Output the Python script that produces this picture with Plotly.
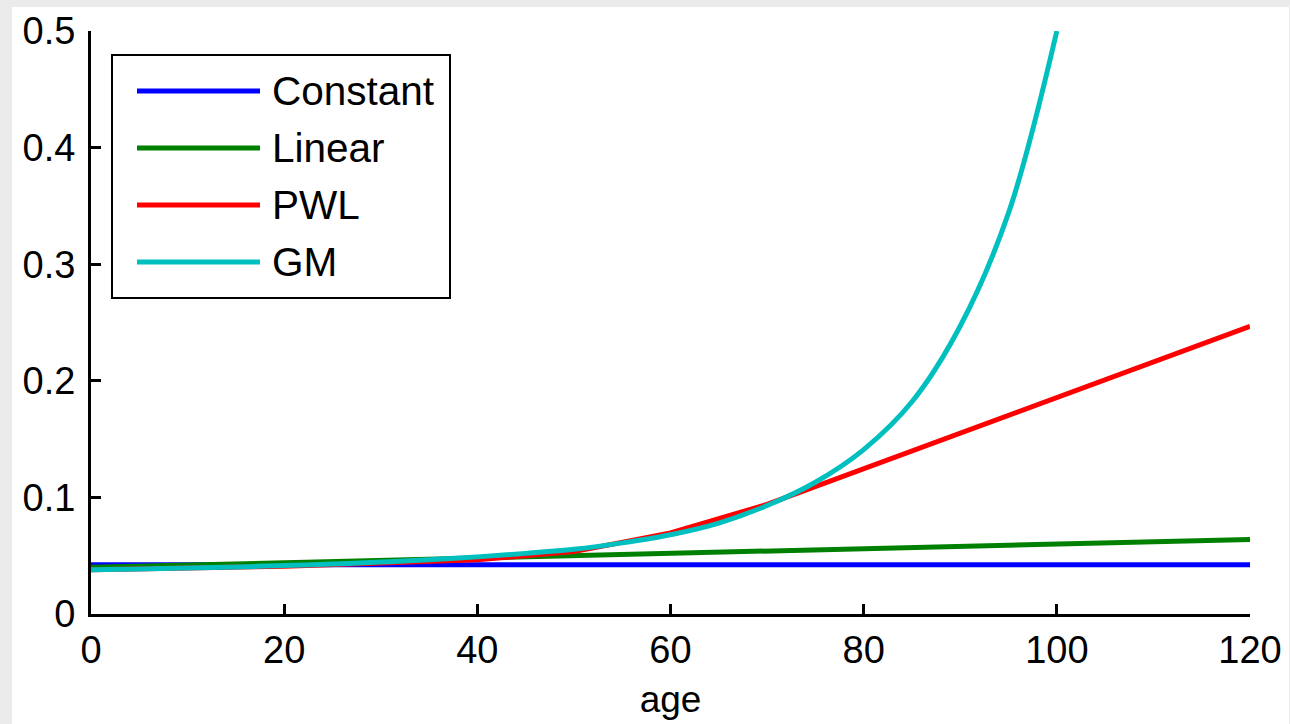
import plotly.graph_objects as go

# ---- data ----
const_ages = [0, 120]
const_vals = [0.0422, 0.0422]

lin_ages = [0, 120]
lin_vals = [0.040, 0.064]

pwl_ages = [0, 20, 40, 50, 60, 70, 120]
pwl_vals = [0.038, 0.041, 0.0465, 0.0535, 0.0695, 0.094, 0.2466]

gm_ages = [0, 5, 10, 15, 20, 25, 30, 35, 40, 45, 50, 55, 60, 65, 70, 75, 80, 85, 90, 95, 100]
gm_vals = [0.038, 0.0387, 0.0395, 0.0404, 0.0415, 0.0428, 0.0445, 0.0465, 0.049, 0.052,
           0.0555, 0.061, 0.068, 0.078, 0.093, 0.113, 0.141, 0.182, 0.247, 0.344, 0.5]

series_names = ["Constant", "Linear", "PWL", "GM"]
series_colors = ["#0000ff", "#008000", "#ff0000", "#00bfbf"]

x_ticks = [0, 20, 40, 60, 80, 100, 120]
y_ticks = [0, 0.1, 0.2, 0.3, 0.4, 0.5]
y_tick_labels = ["0", "0.1", "0.2", "0.3", "0.4", "0.5"]

# ---- layout geometry (pixels) ----
W, H = 1290, 724
L, R, T, B = 91, 40, 31, 110
PX0, PX1 = L, W - R
PY1, PY0 = T, H - B


def px(x):
    return (x - PX0) / (PX1 - PX0)


def py(y):
    return (PY0 - y) / (PY0 - PY1)


FONT = "Liberation Sans, Arial, Helvetica, sans-serif"

fig = go.Figure()
data = [(const_ages, const_vals), (lin_ages, lin_vals), (pwl_ages, pwl_vals), (gm_ages, gm_vals)]
for (xs, ys), name, col in zip(data, series_names, series_colors):
    fig.add_trace(go.Scatter(
        x=xs, y=ys, mode="lines", name=name,
        line=dict(color=col, width=5, shape="spline" if name == "GM" else "linear", smoothing=1.0),
        showlegend=False, hoverinfo="skip",
    ))

shapes = [
    # white figure area on grey window
    dict(type="rect", xref="paper", yref="paper", layer="below",
         x0=px(12), x1=px(1289), y0=py(730), y1=py(7),
         fillcolor="white", line=dict(width=0)),
    # legend box
    dict(type="rect", xref="paper", yref="paper", layer="above",
         x0=px(112), x1=px(450), y0=py(298), y1=py(55),
         fillcolor="white", line=dict(color="black", width=2)),
]
annotations = []
legend_y = [91, 148, 205, 262]
for name, col, yy in zip(series_names, series_colors, legend_y):
    shapes.append(dict(type="line", xref="paper", yref="paper", layer="above",
                       x0=px(137), x1=px(260), y0=py(yy), y1=py(yy),
                       line=dict(color=col, width=5)))
    annotations.append(dict(xref="paper", yref="paper", x=px(270), y=py(yy),
                            text=name, showarrow=False, xanchor="left", yanchor="middle",
                            font=dict(family=FONT, size=40.5, color="black")))

fig.update_layout(
    width=W, height=H, autosize=False,
    margin=dict(l=L, r=R, t=T, b=B, pad=0, autoexpand=False),
    paper_bgcolor="#ebebeb",
    plot_bgcolor="white",
    font=dict(family=FONT, size=38, color="black"),
    shapes=shapes,
    annotations=annotations,
    xaxis=dict(range=[0, 120], tickvals=x_ticks, ticktext=[str(v) for v in x_ticks],
               showline=True, linecolor="black", linewidth=3, automargin=False,
               ticks="inside", ticklen=10, tickwidth=3, tickcolor="black",
               showgrid=False, zeroline=False,
               tickfont=dict(family=FONT, size=38, color="black"),
               title=dict(text="age", font=dict(family=FONT, size=37, color="black"), standoff=17)),
    yaxis=dict(range=[0, 0.5], tickvals=y_ticks, ticktext=y_tick_labels,
               showline=True, linecolor="black", linewidth=3, automargin=False,
               ticks="inside", ticklen=10, tickwidth=3, tickcolor="black",
               showgrid=False, zeroline=False, ticklabelstandoff=5,
               tickfont=dict(family=FONT, size=38, color="black")),
)

fig.write_html(
    "out.html",
    config={"displayModeBar": False, "responsive": False},
    post_script=(
        "var s=document.createElement('style');"
        "s.textContent='html,body{margin:0;padding:0;overflow:hidden;background:#ebebeb;}';"
        "document.head.appendChild(s);"
    ),
)
